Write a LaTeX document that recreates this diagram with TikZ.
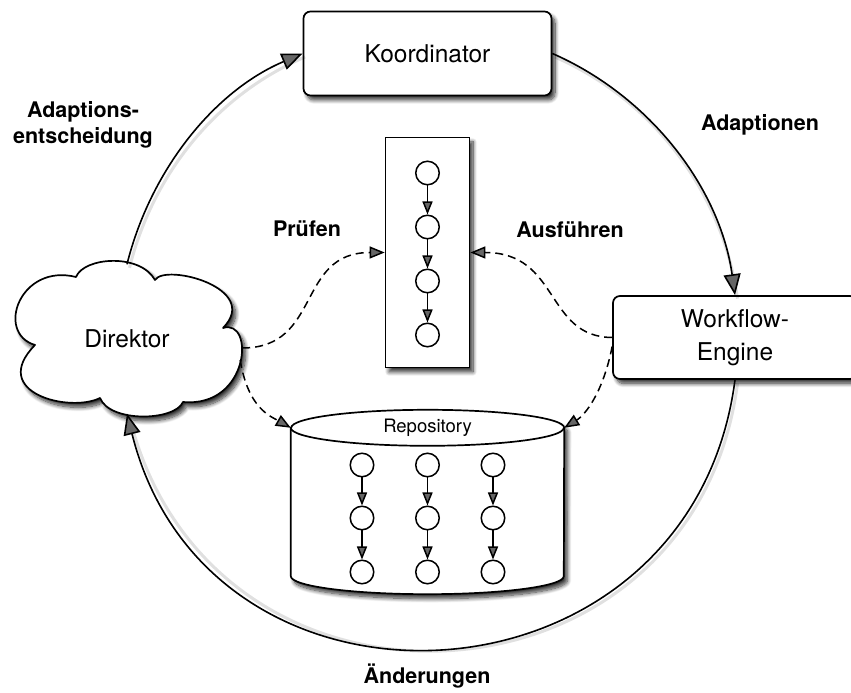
\documentclass[tikz,border=0pt]{standalone}
\usepackage{fontspec}
\setmainfont{TeX Gyre Heros}
\usetikzlibrary{arrows.meta,shadows.blur}

\begin{document}
\begin{tikzpicture}[x=1pt,y=1pt,
  font=\fontsize{24.5}{33}\selectfont,
  bordered/.style={line width=1.7pt, draw=black, fill=white},
  softshadow/.style={blur shadow={shadow xshift=3.5pt, shadow yshift=-4.5pt,
      shadow blur steps=10, shadow blur radius=4pt, shadow opacity=80}},
  rbox/.style={bordered, softshadow, rectangle, rounded corners=7pt,
      align=center, inner sep=0pt},
  flowbox/.style={bordered, softshadow, rectangle, inner sep=0pt},
  task/.style={circle, draw=black, line width=1.5pt, fill=white,
      minimum size=23.5pt, inner sep=0pt},
  flow/.style={line width=1.5pt, -{Triangle[length=13pt,width=10pt]}},
  loopedge/.style={line width=1.6pt, -{Triangle[length=21pt,width=17pt]},
      preaction={draw=black, -, line width=3pt, opacity=0.12,
      transform canvas={xshift=2.5pt, yshift=-3.5pt}}},
  link/.style={line width=1.5pt, dash pattern=on 8pt off 5pt,
      -{Triangle[length=15pt,width=12pt]}},
  lbl/.style={font=\bfseries\fontsize{21.5}{26}\selectfont, align=center},
]
\useasboundingbox (0,0) rectangle (851,693);

% cloud outline of the director: six puffs between the notches
\draw[bordered, softshadow, line join=round]
  (35,348) .. controls (-5,360) and (20,430) .. (76,416)
           .. controls (84,436) and (140,440) .. (155,413)
           .. controls (165,430) and (262,405) .. (223,365)
           .. controls (255,375) and (250,285) .. (183,291)
           .. controls (175,272) and (110,270) .. (100,295)
           .. controls (70,280) and (-12,300) .. (35,348) -- cycle;
\node[minimum width=230pt, minimum height=149pt, inner sep=0pt] (dir) at (127,354) {Direktor};

% main components
\node[rbox, minimum width=248pt, minimum height=84pt] (koord) at (427.5,639.5) {Koordinator};
\node[rbox, minimum width=244pt, minimum height=83pt] (wf) at (735,355.5) {Workflow-\\Engine};

% running process instance
\node[flowbox, minimum width=84pt, minimum height=230pt] (proc) at (427.5,440.5) {};
\node[task] (p1) at (427.5,520) {};
\node[task] (p2) at (427.5,466) {};
\node[task] (p3) at (427.5,412) {};
\node[task] (p4) at (427.5,358) {};
\draw[flow] (p1) -- (p2);
\draw[flow] (p2) -- (p3);
\draw[flow] (p3) -- (p4);

% repository cylinder
\node[minimum width=273pt, minimum height=148pt, inner sep=0pt] (repo) at (427.5,191) {};
\draw[bordered, softshadow] (repo.north west) -- (repo.south west)
   arc[start angle=180, end angle=360, x radius=136.5pt, y radius=18pt]
   -- (repo.north east)
   arc[start angle=0, end angle=180, x radius=136.5pt, y radius=18pt] -- cycle;
\draw[line width=1.7pt] (repo.north west)
   arc[start angle=180, end angle=360, x radius=136.5pt, y radius=18pt];
\node[font=\fontsize{18.5}{22}\selectfont] (repolbl) at (repo.north) {Repository};

\foreach \cx/\col in {362/a, 427.5/b, 493/c} {
  \node[task] (\col1) at (\cx,228) {};
  \node[task] (\col2) at (\cx,175) {};
  \node[task] (\col3) at (\cx,121) {};
  \draw[flow] (\col1) -- (\col2);
  \draw[flow] (\col2) -- (\col3);
}

% adaptation cycle
\draw[loopedge] (dir.north) to[out=76, in=203, looseness=0.9] (koord.west);
\draw[loopedge] (koord.east) to[out=-23.6, in=98, looseness=0.91] (wf.north);
\draw[loopedge] (wf.south) to[out=-97.4, in=-76, looseness=1.43] (dir.south);

% checks and execution
\draw[link] ([yshift=-9pt]dir.east) .. controls (322,345) and (296,440.5) .. (proc.west);
\draw[link] (wf.west) .. controls (545,356) and (560,440.5) .. (proc.east);
\draw[link] ([xshift=-2pt,yshift=-21pt]dir.east) .. controls (248,285) and (270,277) .. (repo.north west);
\draw[link] ([yshift=-9pt]wf.west) .. controls (603,300) and (585,278) .. (repo.north east);

% labels
\node[lbl] (lblA) at (83,568) {Adaptions-\\entscheidung};
\node[lbl] (lblB) at (760,568) {Adaptionen};
\node[lbl] (lblC) at (307,464) {Prüfen};
\node[lbl] (lblD) at (570,463) {Ausführen};
\node[lbl] (lblE) at (427,17) {Änderungen};
\end{tikzpicture}
\end{document}
